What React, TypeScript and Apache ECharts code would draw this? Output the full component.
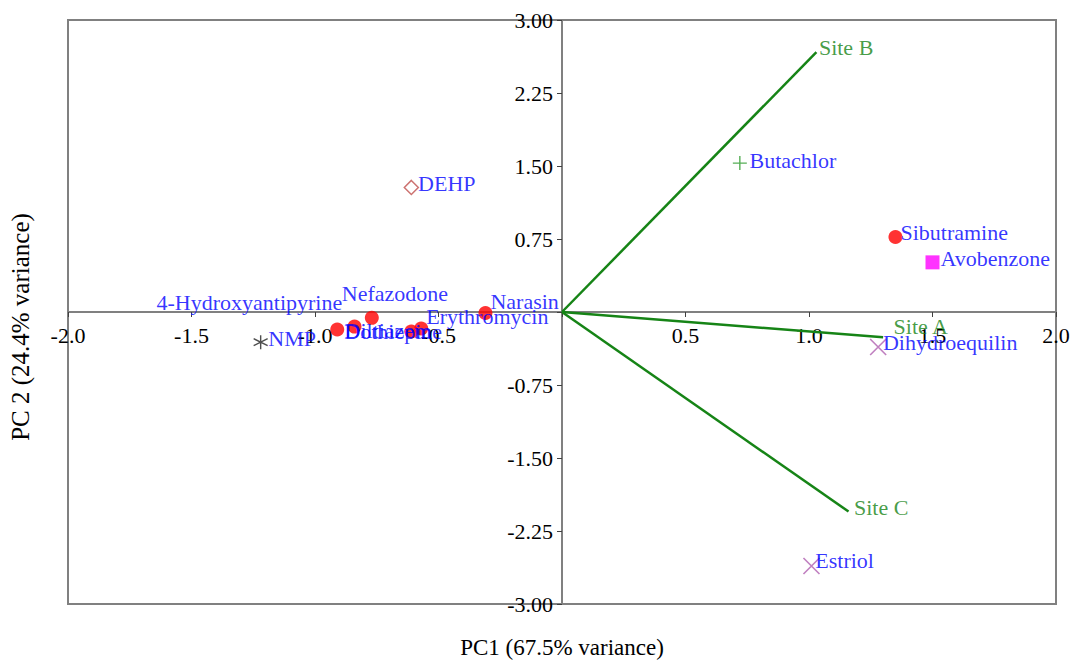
import React, { useEffect, useRef } from "react";
import * as echarts from "echarts";

// ---- Data ----
const xTicksMin = -2;
const xTicksMax = 2;
const xInterval = 0.5;
const yTicksMin = -3;
const yTicksMax = 3;
const yInterval = 0.75;

const xAxisTitle = "PC1 (67.5% variance)";
const yAxisTitle = "PC 2 (24.4% variance)";

// Site loading vectors
const siteNames = ["Site A", "Site B", "Site C"];
const sitePC1 = [1.3, 1.03, 1.16];
const sitePC2 = [-0.26, 2.67, -2.05];

// Red circles
const circleNames = ["Sibutramine", "Narasin", "Erythromycin", "Nefazodone", "4-Hydroxyantipyrine", "Diltiazem", "Dothiepine"];
const circlePC1 = [1.35, -0.31, -0.57, -0.77, -0.91, -0.84, -0.61];
const circlePC2 = [0.77, -0.01, -0.17, -0.06, -0.18, -0.15, -0.2];

// Magenta square
const squareNames = ["Avobenzone"];
const squarePC1 = [1.5];
const squarePC2 = [0.51];

// Purple crosses
const crossNames = ["Dihydroequilin", "Estriol"];
const crossPC1 = [1.28, 1.01];
const crossPC2 = [-0.36, -2.61];

// Green plus
const plusNames = ["Butachlor"];
const plusPC1 = [0.72];
const plusPC2 = [1.53];

// Open diamond
const diamondNames = ["DEHP"];
const diamondPC1 = [-0.61];
const diamondPC2 = [1.28];

// Asterisk
const starNames = ["NMP"];
const starPC1 = [-1.22];
const starPC2 = [-0.31];

// ---- Label placement (styling only) ----
const labelOffsets: Record<string, { pos: string; off: [number, number] }> = {
  Sibutramine: { pos: "right", off: [-2, -5] },
  Narasin: { pos: "right", off: [-2, -11] },
  Erythromycin: { pos: "right", off: [-2, -12] },
  Nefazodone: { pos: "right", off: [-37, -24] },
  "4-Hydroxyantipyrine": { pos: "left", off: [12, -27] },
  Diltiazem: { pos: "right", off: [-17, 4] },
  Dothiepine: { pos: "right", off: [-74, 0] },
  Avobenzone: { pos: "right", off: [1, -4] },
  Dihydroequilin: { pos: "right", off: [-4, -5] },
  Estriol: { pos: "right", off: [-5, -6] },
  Butachlor: { pos: "right", off: [2, -3] },
  DEHP: { pos: "right", off: [-1, -4] },
  NMP: { pos: "right", off: [0, -4] },
  "Site A": { pos: "right", off: [10, -11] },
  "Site B": { pos: "right", off: [2, -5] },
  "Site C": { pos: "right", off: [5, -4] },
};

const FONT = "'Liberation Serif', 'Times New Roman', serif";
const FS = 22;
const BLUE = "#0000ff";
const GREEN = "#168416";

function buildPoints(names: string[], xs: number[], ys: number[], color: string) {
  return names.map((n, i) => {
    const lo = labelOffsets[n] || { pos: "right", off: [0, 0] };
    return {
      name: n,
      value: [xs[i], ys[i]],
      label: {
        show: true,
        position: lo.pos,
        distance: 0,
        offset: lo.off,
        formatter: "{b}",
        color,
        fontFamily: FONT,
        fontSize: FS,
      },
    };
  });
}

export default function App() {
  const ref = useRef<HTMLDivElement>(null);

  useEffect(() => {
    if (!ref.current) return;
    const chart = echarts.init(ref.current, null, { renderer: "svg" });

    const siteLines = siteNames.map((n, i) => ({
      type: "line",
      data: [
        [0, 0],
        [sitePC1[i], sitePC2[i]],
      ],
      showSymbol: false,
      symbol: "none",
      lineStyle: { color: GREEN, width: 2.5 },
      z: 3,
      silent: true,
    }));

    const option: any = {
      animation: false,
      backgroundColor: "#ffffff",
      grid: {
        left: 68,
        top: 20,
        width: 988,
        height: 584,
        show: true,
        borderColor: "#808080",
        borderWidth: 2,
        backgroundColor: "transparent",
      },
      xAxis: {
        type: "value",
        position: "bottom",
        offset: -292,
        min: xTicksMin,
        max: xTicksMax,
        interval: xInterval,
        splitLine: { show: false },
        axisLine: { onZero: false, lineStyle: { color: "#808080", width: 2 } },
        axisTick: { show: true, length: 5, lineStyle: { color: "#404040", width: 1 } },
        axisLabel: {
          color: "#000",
          fontFamily: FONT,
          fontSize: FS,
          margin: 12,
          showMinLabel: true,
          showMaxLabel: true,
          formatter: (v: number) => (Math.abs(v) < 1e-9 ? "" : v.toFixed(1)),
        },
      },
      yAxis: {
        type: "value",
        position: "left",
        offset: -494,
        min: yTicksMin,
        max: yTicksMax,
        interval: yInterval,
        splitLine: { show: false },
        axisLine: { onZero: false, lineStyle: { color: "#808080", width: 2 } },
        axisTick: { show: true, length: 5, lineStyle: { color: "#404040", width: 1 } },
        axisLabel: {
          color: "#000",
          fontFamily: FONT,
          fontSize: FS,
          margin: 9,
          showMinLabel: true,
          showMaxLabel: true,
          formatter: (v: number) => (Math.abs(v) < 1e-9 ? "" : v.toFixed(2)),
        },
      },
      graphic: [
        {
          type: "text",
          x: 562,
          y: 647,
          style: {
            text: xAxisTitle,
            fontFamily: FONT,
            fontSize: 23,
            fill: "#000",
            align: "center",
            verticalAlign: "middle",
          },
        },
        {
          type: "text",
          x: 20,
          y: 327,
          rotation: Math.PI / 2,
          style: {
            text: yAxisTitle,
            fontFamily: FONT,
            fontSize: 25,
            fill: "#000",
            align: "center",
            verticalAlign: "middle",
          },
        },
      ],
      series: [
        ...siteLines,
        {
          type: "scatter",
          symbol: "circle",
          symbolSize: 1,
          itemStyle: { color: "transparent" },
          data: buildPoints(siteNames, sitePC1, sitePC2, GREEN),
          z: 4,
        },
        {
          type: "scatter",
          symbol: "circle",
          symbolSize: 14,
          itemStyle: { color: "#ff0000" },
          data: buildPoints(circleNames, circlePC1, circlePC2, BLUE),
          z: 5,
        },
        {
          type: "scatter",
          symbol: "rect",
          symbolSize: 14,
          itemStyle: { color: "#ff00ff" },
          data: buildPoints(squareNames, squarePC1, squarePC2, BLUE),
          z: 5,
        },
        {
          type: "scatter",
          symbol: "path://M0,0L10,10M10,0L0,10",
          symbolSize: 16,
          itemStyle: { color: "transparent", borderColor: "#b060b0", borderWidth: 1.6 },
          data: buildPoints(crossNames, crossPC1, crossPC2, BLUE),
          z: 5,
        },
        {
          type: "scatter",
          symbol: "path://M5,0L5,10M0,5L10,5",
          symbolSize: 14,
          itemStyle: { color: "transparent", borderColor: "#2a9a2a", borderWidth: 1.4 },
          data: buildPoints(plusNames, plusPC1, plusPC2, BLUE),
          z: 5,
        },
        {
          type: "scatter",
          symbol: "diamond",
          symbolSize: 14,
          itemStyle: { color: "#ffffff", borderColor: "#c0504d", borderWidth: 1.5 },
          data: buildPoints(diamondNames, diamondPC1, diamondPC2, BLUE),
          z: 5,
        },
        {
          type: "scatter",
          symbol: "path://M5,0L5,10M0.7,2.5L9.3,7.5M0.7,7.5L9.3,2.5",
          symbolSize: 14,
          itemStyle: { color: "transparent", borderColor: "#222222", borderWidth: 1.4 },
          data: buildPoints(starNames, starPC1, starPC2, BLUE),
          z: 5,
        },
      ],
    };

    chart.setOption(option);
    return () => chart.dispose();
  }, []);

  return (
    <div
      ref={ref}
      style={{ position: "fixed", left: 0, top: 0, width: 1073, height: 661, background: "#fff" }}
    />
  );
}
